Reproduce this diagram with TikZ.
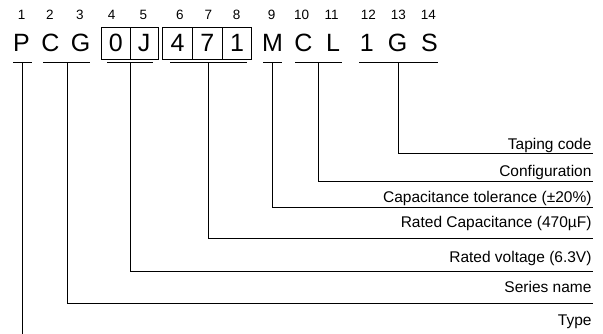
\documentclass[tikz,border=0pt]{standalone}
\usepackage{fontspec}
\setmainfont{Liberation Sans}
\begin{document}
\begin{tikzpicture}[x=1pt,y=-1pt,line width=1pt,
  big/.style={font=\fontsize{25}{25}\selectfont,anchor=base,inner sep=0pt},
  num/.style={font=\fontsize{13.5}{13.5}\selectfont,anchor=base,inner sep=0pt},
  lbl/.style={font=\fontsize{15.5}{15.5}\selectfont,anchor=base east,inner sep=0pt},
  cell/.style={line width=1pt},
  lead/.style={line width=1pt}]
\useasboundingbox (0,0) rectangle (603,334);
% position numbers
\node[num] (n1)  at (21.7,19.3) {1};
\node[num] (n2)  at (50,19.3) {2};
\node[num] (n3)  at (80,19.3) {3};
\node[num] (n4)  at (111.7,19.3) {4};
\node[num] (n5)  at (143.3,19.3) {5};
\node[num] (n6)  at (180,19.3) {6};
\node[num] (n7)  at (208.3,19.3) {7};
\node[num] (n8)  at (236.7,19.3) {8};
\node[num] (n9)  at (271.7,19.3) {9};
\node[num] (n10) at (301.7,19.3) {10};
\node[num] (n11) at (331.7,19.3) {11};
\node[num] (n12) at (368.3,19.3) {12};
\node[num] (n13) at (398.3,19.3) {13};
\node[num] (n14) at (428.3,19.3) {14};
% code letters
\node[big] (c1)  at (21.5,51.7) {P};
\node[big] (c2)  at (50.5,51.7) {C};
\node[big] (c3)  at (80.5,51.7) {G};
\node[big] (c4)  at (115.8,51.7) {0};
\node[big] (c5)  at (144.2,51.7) {J};
\node[big] (c6)  at (177.5,51.7) {4};
\node[big] (c7)  at (207.3,51.7) {7};
\node[big] (c8)  at (237,51.7) {1};
\node[big] (c9)  at (272.5,51.7) {M};
\node[big] (c10) at (303.5,51.7) {C};
\node[big] (c11) at (333,51.7) {L};
\node[big] (c12) at (366.7,51.7) {1};
\node[big] (c13) at (397.5,51.7) {G};
\node[big] (c14) at (429.5,51.7) {S};
% boxes
\draw[cell] (101.7,27.3) rectangle (158.3,59.3);
\draw[cell] (130,27.3) -- (130,59.3);
\draw[cell] (162.7,27.3) rectangle (251.7,59.3);
\draw[cell] (192.3,27.3) -- (192.3,59.3);
\draw[cell] (222.3,27.3) -- (222.3,59.3);
% underline bars
\coordinate (a1) at (13,62.7);  \coordinate (b1) at (32,62.7);  \coordinate (m1) at (22,62.7);
\coordinate (a2) at (43,62.7);  \coordinate (b2) at (90,62.7);  \coordinate (m2) at (67,62.7);
\coordinate (a3) at (107,62.7); \coordinate (b3) at (153,62.7); \coordinate (m3) at (130,62.7);
\coordinate (a4) at (170,62.7); \coordinate (b4) at (247,62.7); \coordinate (m4) at (208,62.7);
\coordinate (a5) at (263,62.7); \coordinate (b5) at (282,62.7); \coordinate (m5) at (272,62.7);
\coordinate (a6) at (295,62.7); \coordinate (b6) at (342,62.7); \coordinate (m6) at (318,62.7);
\coordinate (a7) at (359,62.7); \coordinate (b7) at (438,62.7); \coordinate (m7) at (398,62.7);
\foreach \i in {1,...,7} { \draw[lead] (a\i) -- (b\i); }
% leader ends
\coordinate (e1) at (22,334);
\coordinate (e2) at (593,303);
\coordinate (e3) at (593,271.8);
\coordinate (e4) at (593,239);
\coordinate (e5) at (593,207.5);
\coordinate (e6) at (593,182);
\coordinate (e7) at (593,154);
\draw[lead] (m1) -- (e1);
\foreach \i in {2,...,7} { \draw[lead] (m\i) |- (e\i); }
% labels
\node[lbl] (t7) at (592,149.5) {Taping code};
\node[lbl] (t6) at (592,176.5) {Configuration};
\node[lbl] (t5) at (592,203) {Capacitance tolerance (±20\%)};
\node[lbl] (t4) at (592,228) {Rated Capacitance (470µF)};
\node[lbl] (t3) at (592,262) {Rated voltage (6.3V)};
\node[lbl] (t2) at (592,292) {Series name};
\node[lbl] (t1) at (592,325) {Type};
\end{tikzpicture}
\end{document}
